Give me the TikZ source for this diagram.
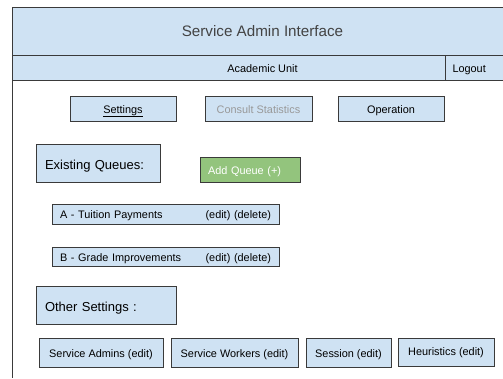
\documentclass[tikz,border=0pt]{standalone}
\usepackage{fontspec}
\setmainfont{Liberation Sans}
\definecolor{paleblue}{HTML}{CFE2F3}
\definecolor{leafgreen}{HTML}{93C47D}
\definecolor{edgegray}{HTML}{3A3A3A}
\definecolor{mutedgray}{HTML}{999999}
\definecolor{titlegray}{HTML}{434343}
\newcommand{\smalltxt}{\fontsize{10.9}{12}\selectfont}
\newcommand{\midtxt}{\fontsize{13}{15}\selectfont}
\newcommand{\bigtxt}{\fontsize{15.2}{18}\selectfont}

\begin{document}
\begin{tikzpicture}[x=1pt, y=-1pt,
  panel/.style={draw=edgegray, line width=1pt, fill=paleblue, inner sep=0pt, font=\smalltxt,
    text height=1em, text depth=0.1em},
  tabbox/.style={panel, minimum width=106, minimum height=25},
  labelbox/.style={panel, minimum height=38, font=\midtxt, inner xsep=9, align=left,
    text height=1.4em},
  queuebox/.style={panel, minimum width=227, inner xsep=8, text width=211},
  editbox/.style={panel, minimum height=29}]
\useasboundingbox (0,0) rectangle (503,378);
\clip (0,0) rectangle (503,378);
% header
\node[panel, minimum width=501, minimum height=48, font=\bigtxt, text=titlegray, text height=1.1em] (title) at (262.5,31) {Service Admin Interface};
\node[panel, minimum width=501, minimum height=25] (unit) at (262.5,67.5) {Academic Unit};
\node[panel, minimum width=68, minimum height=25, inner xsep=7, text width=54, anchor=west] (logout) at (445,67.5) {Logout};
\draw[edgegray, line width=1pt] (12,80) -- (12,378);
% tabs
\node[tabbox] (settings) at (123,108.5) {\underline{Settings}};
\node[tabbox, minimum width=107, text=mutedgray] (stats) at (258.5,108.5) {Consult Statistics};
\node[tabbox] (operation) at (391,108.5) {Operation};
% queues
\node[labelbox, minimum width=124, text width=106] (queues) at (98,163) {Existing Queues:};
\node[panel, fill=leafgreen, text=white, minimum width=100, minimum height=25, inner xsep=8, text width=84] (addqueue) at (250,169.5) {Add Queue (+)};
\node[queuebox, minimum height=20] (queueA) at (165.5,214) {A - Tuition Payments\hfill(edit) (delete)};
\node[queuebox, minimum height=19] (queueB) at (165.5,256.5) {B - Grade Improvements\hfill(edit) (delete)};
% other settings
\node[labelbox, minimum width=140, text width=122] (other) at (106,305) {Other Settings :};
\node[editbox, minimum width=124] (admins) at (101,352.5) {Service Admins (edit)};
\node[editbox, minimum width=127] (workers) at (234.5,352.5) {Service Workers (edit)};
\node[editbox, minimum width=85] (session) at (348.5,352.5) {Session (edit)};
\node[editbox, minimum width=96, minimum height=28, text depth=0.25em] (heuristics) at (446,352) {Heuristics (edit)};
\end{tikzpicture}
\end{document}
